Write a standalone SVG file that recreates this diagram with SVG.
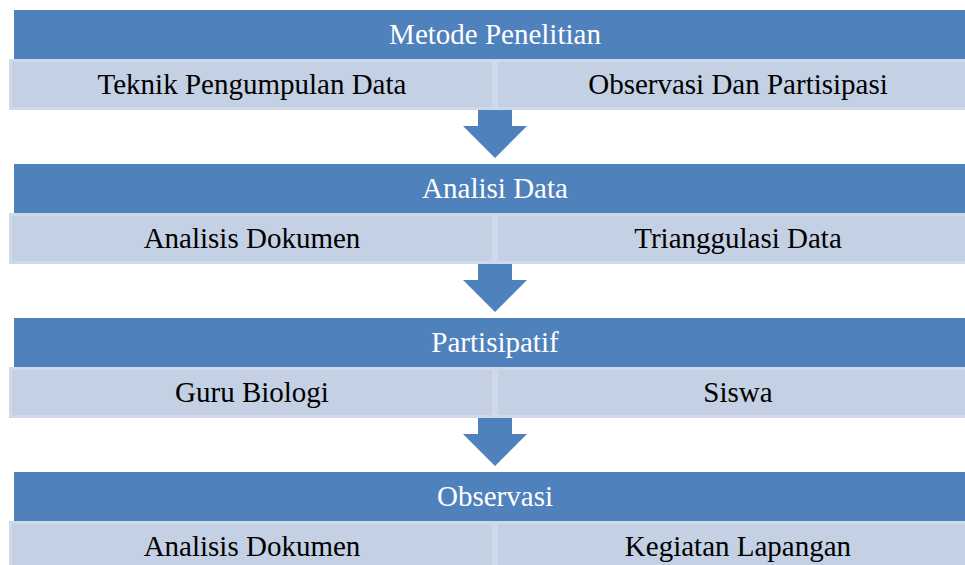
<svg xmlns="http://www.w3.org/2000/svg" width="965" height="565" viewBox="0 0 965 565">
<style>
.hdr{fill:#4F81BD}
.cell{fill:#C4D0E3;stroke:#D0D9E9;stroke-width:3}
.ht{font-family:"Liberation Serif","Times New Roman",serif;font-size:29px;fill:#FFFFFF;text-anchor:middle}
.ct{font-family:"Liberation Serif","Times New Roman",serif;font-size:29px;fill:#000000;text-anchor:middle}
.arr{fill:#4F81BD}
</style>
<rect width="965" height="565" fill="#FFFFFF"/>
<g id="connectors">
<path class="arr" d="M478,110 H512 V126 H527 L495,158 L463,126 H478 Z"/>
<path class="arr" d="M478,264 H512 V280 H527 L495,312 L463,280 H478 Z"/>
<path class="arr" d="M478,418 H512 V434 H527 L495,466 L463,434 H478 Z"/>
</g>
<g id="h1"><rect class="hdr" x="14" y="10" width="962" height="49"/><text class="ht" x="495" y="44">Metode Penelitian</text></g>
<g id="c1a"><rect class="cell" x="10.5" y="60.5" width="483" height="48"/><text class="ct" x="252" y="94">Teknik Pengumpulan Data</text></g>
<g id="c1b"><rect class="cell" x="496.5" y="60.5" width="483" height="48"/><text class="ct" x="738" y="94">Observasi Dan Partisipasi</text></g>
<g id="h2"><rect class="hdr" x="14" y="164" width="962" height="49"/><text class="ht" x="495" y="198">Analisi Data</text></g>
<g id="c2a"><rect class="cell" x="10.5" y="214.5" width="483" height="48"/><text class="ct" x="252" y="248">Analisis Dokumen</text></g>
<g id="c2b"><rect class="cell" x="496.5" y="214.5" width="483" height="48"/><text class="ct" x="738" y="248">Trianggulasi Data</text></g>
<g id="h3"><rect class="hdr" x="14" y="318" width="962" height="49"/><text class="ht" x="495" y="352">Partisipatif</text></g>
<g id="c3a"><rect class="cell" x="10.5" y="368.5" width="483" height="48"/><text class="ct" x="252" y="402">Guru Biologi</text></g>
<g id="c3b"><rect class="cell" x="496.5" y="368.5" width="483" height="48"/><text class="ct" x="738" y="402">Siswa</text></g>
<g id="h4"><rect class="hdr" x="14" y="472" width="962" height="49"/><text class="ht" x="495" y="506">Observasi</text></g>
<g id="c4a"><rect class="cell" x="10.5" y="522.5" width="483" height="48"/><text class="ct" x="252" y="556">Analisis Dokumen</text></g>
<g id="c4b"><rect class="cell" x="496.5" y="522.5" width="483" height="48"/><text class="ct" x="738" y="556">Kegiatan Lapangan</text></g>
</svg>
